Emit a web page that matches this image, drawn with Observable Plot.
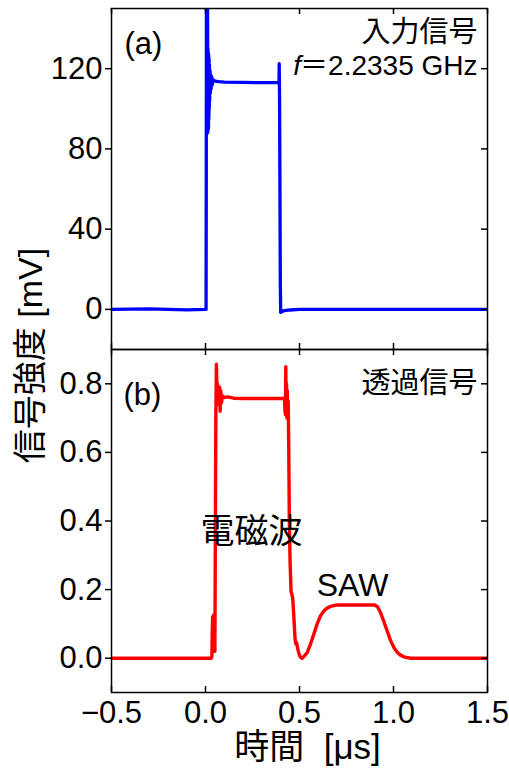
<!DOCTYPE html>
<html><head><meta charset="utf-8">
<script src="https://cdn.jsdelivr.net/npm/d3@7"></script>
<script src="https://cdn.jsdelivr.net/npm/@observablehq/plot@0.6"></script>
<style>body{margin:0;background:#fff} #chart{width:509px;background:#fff}</style>
</head><body><div id="chart"></div>
<script>
// ---- data ----
const timeA = [-0.5, -0.3, -0.1, 0.0, 0.003, 0.004, 0.005, 0.006, 0.007, 0.008, 0.009, 0.010, 0.011, 0.012, 0.013, 0.014, 0.015, 0.016, 0.017, 0.018, 0.019, 0.020, 0.021, 0.022, 0.024, 0.026, 0.028, 0.030, 0.033, 0.036, 0.040, 0.050, 0.070, 0.10, 0.20, 0.30, 0.38, 0.389, 0.391, 0.392, 0.393, 0.394, 0.396, 0.398, 0.400, 0.405, 0.42, 0.45, 0.50, 0.7, 1.0, 1.3, 1.5];
const sigA  = [0, 0.3, -0.2, 0, 0, 60, 160, 95, 160, 88, 158, 90, 150, 88, 130, 92, 128, 90, 127, 95, 125, 100, 122, 104, 119, 108, 117, 110, 116, 112, 114.5, 113.8, 113.5, 113.3, 113.2, 113, 113, 113, 113, 122.5, 113, 105, 60, 12, -1.5, -1.2, -0.6, -0.3, 0, 0, 0, 0, 0];

const timeB = [-0.5, -0.2, 0.0, 0.030, 0.034, 0.036, 0.038, 0.040, 0.042, 0.044, 0.047, 0.050, 0.052, 0.055, 0.058, 0.060, 0.062, 0.064, 0.066, 0.068, 0.071, 0.075, 0.078, 0.081, 0.085, 0.090, 0.10, 0.12, 0.15, 0.20, 0.30, 0.40, 0.420, 0.423, 0.425, 0.427, 0.429, 0.431, 0.433, 0.435, 0.437, 0.440, 0.443, 0.446, 0.450, 0.455, 0.460, 0.464, 0.470, 0.476, 0.480, 0.484, 0.488, 0.494, 0.500, 0.507, 0.514, 0.525, 0.541, 0.558, 0.576, 0.594, 0.612, 0.630, 0.647, 0.670, 0.700, 0.800, 0.900, 0.915, 0.931, 0.948, 0.966, 0.984, 1.002, 1.020, 1.037, 1.060, 1.090, 1.2, 1.5];
const sigB  = [0, 0, 0, 0, 0.005, 0.08, 0.12, 0.10, 0.125, 0.11, 0.05, 0.02, 0.3, 0.7, 0.857, 0.80, 0.74, 0.80, 0.75, 0.78, 0.755, 0.79, 0.72, 0.78, 0.745, 0.765, 0.76, 0.762, 0.758, 0.757, 0.757, 0.757, 0.757, 0.72, 0.71, 0.85, 0.74, 0.80, 0.70, 0.78, 0.72, 0.75, 0.6, 0.4, 0.28, 0.195, 0.185, 0.175, 0.12, 0.06, 0.042, 0.046, 0.035, 0.02, 0.008, 0.002, 0.0, 0.006, 0.016, 0.04, 0.07, 0.10, 0.124, 0.138, 0.146, 0.152, 0.155, 0.155, 0.155, 0.15, 0.133, 0.108, 0.08, 0.052, 0.031, 0.017, 0.009, 0.003, 0.0, 0, 0];

const xTicks  = [-0.5, 0, 0.5, 1, 1.5];
const yTicksA = [0, 40, 80, 120];
const yTicksB = [0, 0.2, 0.4, 0.6, 0.8];

const panelA = "(a)", nameA = "入力信号", freqSym = "f", freqText = "＝2.2335 GHz";
const panelB = "(b)", nameB = "透過信号";
const noteEM = "電磁波", noteSAW = "SAW";
const yLabel = "信号強度 [mV]", xLabel = "時間  [μs]";

// ---- layout ----
const FONT = "'Liberation Sans', Arial, 'Noto Sans CJK JP', sans-serif";
const W = 509, ML = 111, MR = 22;
const frameW = W - ML - MR;
const HA = 349, MTA = 8, frameHA = HA - MTA;
const HB = 422, MBB = 79, frameHB = HB - MBB;
const TL = 6;
const TF = 31;
const fmtX = d => (d < 0 ? "\u2212" : "") + Math.abs(d).toFixed(1);

const dataA = timeA.map((t, i) => ({t, v: sigA[i]}));
const dataB = timeB.map((t, i) => ({t, v: sigB[i]}));

const ctx = document.createElement("canvas").getContext("2d");
ctx.font = "28px " + FONT;
const freqW = ctx.measureText(freqText).width;

const common = {width: W, marginLeft: ML, marginRight: MR,
  style: {overflow: "visible", fontFamily: FONT, fontSize: "30px", background: "transparent", color: "#000"}};

const plotA = Plot.plot({
  ...common, height: HA, marginTop: MTA, marginBottom: 0,
  x: {domain: [-0.5, 1.5], axis: null},
  y: {domain: [-20, 150], axis: null},
  marks: [
    Plot.line(dataA, {x: "t", y: "v", stroke: "#0000ff", strokeWidth: 3.3, clip: true}),
    Plot.frame({stroke: "#000", strokeWidth: 1.5}),
    Plot.axisY(yTicksA, {tickSize: TL, tickPadding: 3, label: null, fontSize: TF, strokeWidth: 1.5, tickFormat: d => String(d)}),
    Plot.tickY(yTicksA, {y: d => d, insetLeft: frameW - TL, strokeWidth: 1.5}),
    Plot.tickX(xTicks, {x: d => d, insetBottom: frameHA - TL, strokeWidth: 1.5}),
    Plot.tickX(xTicks, {x: d => d, insetTop: frameHA - TL, strokeWidth: 1.5}),
    Plot.text([panelA], {text: d => d, frameAnchor: "top-left", dx: 13, dy: 36, textAnchor: "start", lineAnchor: "middle", fontSize: 31}),
    Plot.text([nameA], {text: d => d, frameAnchor: "top-right", dx: -10, dy: 24, textAnchor: "end", lineAnchor: "middle", fontSize: 29}),
    Plot.text([freqText], {text: d => d, frameAnchor: "top-right", dx: -10, dy: 58, textAnchor: "end", lineAnchor: "middle", fontSize: 28}),
    Plot.text([freqSym], {text: d => d, frameAnchor: "top-right", dx: -10 - freqW + 1, dy: 58, textAnchor: "end", lineAnchor: "middle", fontSize: 28, fontStyle: "italic"})
  ]
});

const plotB = Plot.plot({
  ...common, height: HB, marginTop: 0, marginBottom: MBB,
  x: {domain: [-0.5, 1.5], axis: null},
  y: {domain: [-0.1, 0.9], axis: null},
  marks: [
    Plot.line(dataB, {x: "t", y: "v", stroke: "#ff0000", strokeWidth: 3.4, clip: true}),
    Plot.frame({stroke: "#000", strokeWidth: 1.5}),
    Plot.axisY(yTicksB, {tickSize: TL, tickPadding: 3, label: null, fontSize: TF, strokeWidth: 1.5, tickFormat: d => d.toFixed(1)}),
    Plot.axisX(xTicks, {tickSize: 0, tickPadding: 8, label: null, fontSize: TF, tickFormat: fmtX}),
    Plot.tickY(yTicksB, {y: d => d, insetLeft: frameW - TL, strokeWidth: 1.5}),
    Plot.tickX(xTicks, {x: d => d, insetBottom: frameHB - TL, strokeWidth: 1.5}),
    Plot.tickX(xTicks, {x: d => d, insetTop: frameHB - TL, strokeWidth: 1.5}),
    Plot.text([panelB], {text: d => d, frameAnchor: "top-left", dx: 12, dy: 46, textAnchor: "start", lineAnchor: "middle", fontSize: 31}),
    Plot.text([nameB], {text: d => d, frameAnchor: "top-right", dx: -10, dy: 34, textAnchor: "end", lineAnchor: "middle", fontSize: 29}),
    Plot.text([noteEM], {text: d => d, frameAnchor: "top-left", dx: 140, dy: 183, textAnchor: "middle", lineAnchor: "middle", fontSize: 34}),
    Plot.text([noteSAW], {text: d => d, frameAnchor: "top-left", dx: 241, dy: 236, textAnchor: "middle", lineAnchor: "middle", fontSize: 32}),
    Plot.text([yLabel], {text: d => d, frameAnchor: "top-left", dx: -80, dy: 6, rotate: -90, textAnchor: "middle", lineAnchor: "middle", fontSize: 34}),
    Plot.text([xLabel], {text: d => d, frameAnchor: "bottom", dx: 8, dy: 55, textAnchor: "middle", lineAnchor: "middle", fontSize: 35})
  ]
});

const chart = document.getElementById("chart");
chart.appendChild(plotA);
chart.appendChild(plotB);
</script>
</body></html>
